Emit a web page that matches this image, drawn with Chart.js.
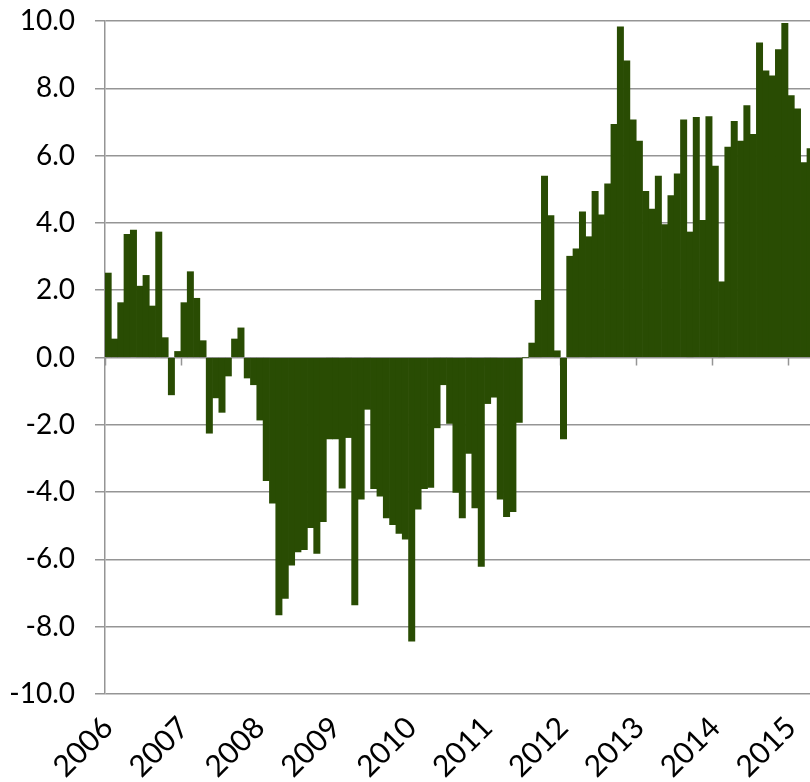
<!DOCTYPE html>
<html>
<head>
<meta charset="utf-8">
<script src="https://cdn.jsdelivr.net/npm/chart.js@4.4.1/dist/chart.umd.min.js"></script>
<style>
  html, body { margin: 0; padding: 0; background: #fff; overflow: hidden; }
</style>
</head>
<body>
<canvas id="chart" width="810" height="782"></canvas>
<script>
// Data (monthly values, first bar = Jan 2006)
const years = [2006, 2007, 2008, 2009, 2010, 2011, 2012, 2013, 2014, 2015];
const yTicks = [-10, -8, -6, -4, -2, 0, 2, 4, 6, 8, 10];
const values2006 = [2.51, 0.55, 1.63, 3.66, 3.79, 2.12, 2.44, 1.53, 3.73, 0.59, -1.11, 0.18];
const values2007 = [1.63, 2.55, 1.76, 0.50, -2.25, -1.20, -1.63, -0.55, 0.55, 0.88, -0.61, -0.81];
const values2008 = [-1.86, -3.66, -4.33, -7.65, -7.16, -6.17, -5.78, -5.71, -5.06, -5.82, -4.88, -2.42];
const values2009 = [-2.42, -3.88, -2.38, -7.35, -4.21, -1.54, -3.90, -4.12, -4.77, -4.97, -5.23, -5.40];
const values2010 = [-8.43, -4.51, -3.90, -3.86, -2.09, -0.81, -1.96, -4.01, -4.77, -2.85, -4.47, -6.21];
const values2011 = [-1.37, -1.18, -4.21, -4.73, -4.58, -1.93, 0, 0.43, 1.70, 5.39, 4.22, 0.20];
const values2012 = [-2.42, 3.01, 3.23, 4.33, 3.59, 4.94, 4.24, 5.16, 6.93, 9.83, 8.82, 7.06];
const values2013 = [6.43, 4.94, 4.41, 5.39, 3.95, 4.81, 5.46, 7.06, 3.73, 7.14, 4.08, 7.16];
const values2014 = [5.69, 2.25, 6.25, 7.02, 6.43, 7.49, 6.63, 9.35, 8.52, 8.37, 9.15, 9.93];
const values2015 = [7.78, 7.39, 5.79, 6.21];

const allValues = [].concat(values2006, values2007, values2008, values2009, values2010,
    values2011, values2012, values2013, values2014, values2015);

// each bar sits in the middle of its month
const points = allValues.map((v, i) => ({ x: years[0] + (i + 0.5) / 12, y: v }));

const GRID = '#959595';
const FONT = { family: 'Lato', size: 28 };

// small tick marks hanging off the zero line at each year
const zeroTicks = {
    id: 'zeroTicks',
    beforeDatasetsDraw(chart) {
        const { ctx, scales: { x, y } } = chart;
        const y0 = y.getPixelForValue(0);
        ctx.save();
        ctx.strokeStyle = GRID;
        ctx.lineWidth = 1.5;
        years.forEach(yr => {
            const px = Math.round(x.getPixelForValue(yr)) + 0.5;
            ctx.beginPath();
            ctx.moveTo(px, y0);
            ctx.lineTo(px, y0 + 8);
            ctx.stroke();
        });
        ctx.restore();
    }
};

new Chart(document.getElementById('chart'), {
    type: 'bar',
    data: {
        datasets: [{
            data: points,
            backgroundColor: '#294c03',
            borderWidth: 0,
            categoryPercentage: 1,
            barPercentage: 1
        }]
    },
    options: {
        responsive: false,
        animation: false,
        layout: { padding: { top: 21, left: 0, right: 0, bottom: 0 } },
        plugins: { legend: { display: false }, tooltip: { enabled: false } },
        scales: {
            x: {
                type: 'linear',
                offset: false,
                min: 2006,
                max: 2015.29,
                grid: { display: false, offset: false },
                border: { display: false },
                afterBuildTicks: (s) => { s.ticks = years.map(v => ({ value: v })); },
                afterFit: (s) => {
                    s.height = 88;
                    s.paddingLeft = 0; s.paddingRight = 0;
                },
                ticks: {
                    minRotation: 45,
                    maxRotation: 45,
                    padding: 8,
                    labelOffset: 3,
                    color: '#000',
                    font: { family: 'Lato', size: 30 },
                    callback: (v) => String(v)
                }
            },
            y: {
                min: -10,
                max: 10,
                afterBuildTicks: (s) => { s.ticks = yTicks.map(v => ({ value: v })); },
                afterFit: (s) => {
                    s.width = 105;
                    s.paddingTop = 0; s.paddingBottom = 0;
                },
                grid: { color: GRID, lineWidth: 1.5, tickLength: 10, drawTicks: true },
                border: { display: true, color: GRID, width: 1.5 },
                ticks: {
                    padding: 20,
                    color: '#000',
                    font: FONT,
                    callback: (v) => v.toFixed(1)
                }
            }
        }
    },
    plugins: [zeroTicks]
});
</script>
</body>
</html>
